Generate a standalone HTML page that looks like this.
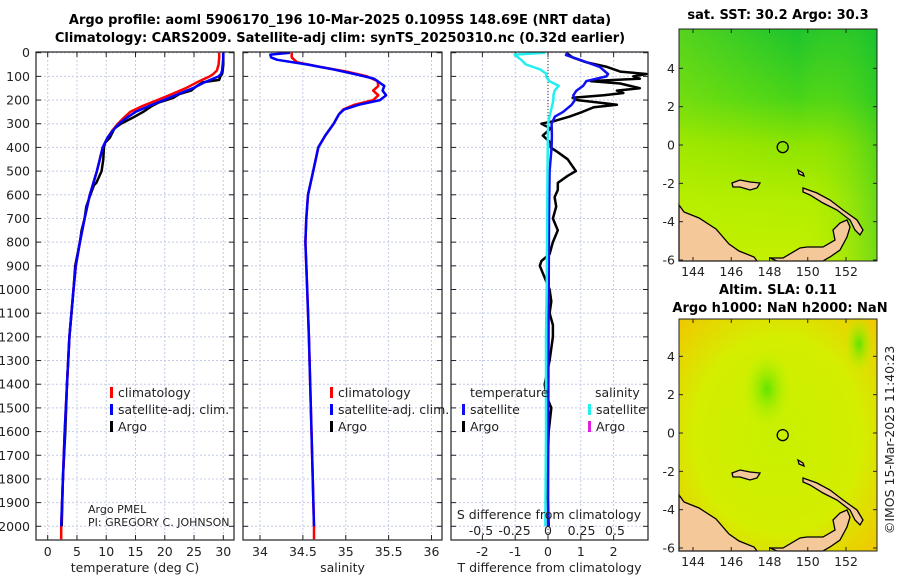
<!DOCTYPE html>
<html><head><meta charset="utf-8">
<style>
body{margin:0;background:#fff;}
svg{display:block;font-family:"DejaVu Sans","Liberation Sans",sans-serif;}
.t{font-size:12.5px;fill:#222;}
.b{font-size:13px;font-weight:bold;fill:#000;}
</style></head>
<body>
<svg id="fig" width="900" height="580" viewBox="0 0 900 580">
<defs>
<linearGradient id="sstg" x1="0" y1="0" x2="0" y2="1">
<stop offset="0" stop-color="#1cc42e"/><stop offset="0.3" stop-color="#48d418"/><stop offset="0.5" stop-color="#8ee400"/><stop offset="0.75" stop-color="#b4ee00"/><stop offset="1" stop-color="#c4f000"/>
</linearGradient>
<linearGradient id="sstx" x1="0" y1="0" x2="1" y2="0">
<stop offset="0" stop-color="#c0f000" stop-opacity="0.35"/><stop offset="0.6" stop-color="#c0f000" stop-opacity="0"/><stop offset="1" stop-color="#10c030" stop-opacity="0.45"/>
</linearGradient>
<radialGradient id="slag" cx="0.5" cy="0.5" r="0.7">
<stop offset="0" stop-color="#c8f000"/><stop offset="0.6" stop-color="#d4ee00"/><stop offset="1" stop-color="#f0c800"/>
</radialGradient>
<radialGradient id="slagreen" cx="0.5" cy="0.5" r="0.5">
<stop offset="0" stop-color="#60e400"/><stop offset="1" stop-color="#c0f000" stop-opacity="0"/>
</radialGradient>
</defs>
<g id="titles">
<text class="b" x="340" y="24" text-anchor="middle">Argo profile: aoml 5906170_196 10-Mar-2025 0.1095S 148.69E (NRT data)</text>
<text class="b" x="340" y="42" text-anchor="middle">Climatology: CARS2009. Satellite-adj clim: synTS_20250310.nc (0.32d earlier)</text>
</g>
<g id="plots"></g>
<g id="maps"></g>
<text class="t" transform="translate(894,440) rotate(-90)" text-anchor="middle">©IMOS 15-Mar-2025 11:40:23</text>
</svg>
<script>
// ---- data ----
const depthTicks=[0,100,200,300,400,500,600,700,800,900,1000,1100,1200,1300,1400,1500,1600,1700,1800,1900,2000];
const tempTicks=[0,5,10,15,20,25,30];
const salTicks=[34,34.5,35,35.5,36];
const tdiffTicks=[-2,-1,0,1,2];
const sdiffTicks=[-0.5,-0.25,0,0.25,0.5];
const sdiffLabels=["-0.5","-0.25","0","0.25","0.5"];

const climTDepth=[0,20,50,75,90,100,125,150,175,200,225,250,275,300,330,360,400,450,500,550,600,700,800,900,1000,1200,1400,1600,1800,2000,2055];
const climT=[29.3,29.3,29.2,28.9,28.3,27.7,25.5,23.6,21.2,18.7,16.2,14.1,13.0,12.0,11.0,10.2,9.4,8.9,8.4,7.8,7.2,6.3,5.5,4.8,4.4,3.7,3.3,2.9,2.6,2.3,2.3];
const satTDepth=[0,20,50,75,90,100,125,150,175,200,225,250,275,300,330,360,400,450,500,550,600,700,800,900,1000,1200,1400,1600,1800,2000];
const satT=[30.0,30.0,29.9,29.8,29.6,29.2,26.8,24.8,22.3,19.8,17.3,15.0,13.5,12.2,11.1,10.2,9.4,8.9,8.4,7.8,7.2,6.3,5.5,4.8,4.4,3.7,3.3,2.9,2.6,2.3];
const argoTDepth=[0,20,50,75,90,100,115,125,140,150,160,175,190,200,210,225,250,275,300,320,340,360,380,400,450,500,550,560,600,650,700,750,800,900,1000,1200,1400,1600,1800,2000];
const argoT=[30.0,30.0,30.0,29.9,29.8,29.5,29.3,26.5,25.5,25.0,24.5,22.5,21.5,20.3,19.0,17.8,16.3,14.5,12.5,11.4,11.0,10.6,9.8,9.6,9.5,9.2,8.3,7.9,7.3,6.6,6.3,5.8,5.5,4.7,4.4,3.7,3.3,3.0,2.6,2.4];

const climSDepth=[0,20,40,60,80,100,120,140,160,180,200,220,240,260,280,300,350,400,500,600,700,800,1000,1200,1600,2000,2055];
const climS=[34.37,34.37,34.43,34.70,35.01,35.25,35.37,35.38,35.32,35.38,35.32,35.10,34.97,34.92,34.89,34.86,34.76,34.68,34.62,34.56,34.54,34.53,34.55,34.57,34.60,34.63,34.63];
const satSDepth=[0,8,20,30,50,70,90,110,140,160,180,200,220,240,260,280,300,350,400,500,600,700,800,1000,1200,1600,2000];
const satS=[34.35,34.12,34.13,34.20,34.55,34.85,35.10,35.33,35.45,35.43,35.47,35.40,35.15,34.98,34.92,34.89,34.86,34.76,34.68,34.62,34.56,34.54,34.53,34.55,34.57,34.60,34.63];

const tdSatDepth=[0,10,30,60,90,100,120,140,160,180,200,220,250,270,300,350,400,500,700,1000,1500,2000];
const tdSat=[0.6,0.55,0.97,1.58,1.83,1.78,1.17,1.07,0.87,0.77,0.82,0.72,0.46,0.21,0.11,0.12,0.11,0.05,0.03,0.02,0.01,0.0];
const tdArgoDepth=[0,20,40,60,80,90,100,110,120,130,150,160,170,180,190,200,210,220,230,250,270,290,300,320,350,380,400,420,450,480,500,520,550,580,610,650,700,750,800,850,880,900,950,1000,1050,1100,1150,1200,1300,1400,1450,1500,1600,1700,1800,1900,2000];
const tdArgo=[0.55,0.75,1.16,1.8,2.2,3.0,2.6,2.8,1.3,2.2,2.8,2.1,2.3,1.7,0.75,0.9,1.5,2.1,1.4,1.05,0.66,0.15,-0.2,0.08,-0.16,0.08,0.08,0.3,0.6,0.75,0.85,0.6,0.3,0.3,0.2,0.25,0.15,0.3,0.15,0.05,-0.2,-0.25,-0.1,0.05,0.1,0.05,0.15,0.15,0.05,-0.1,-0.05,0.1,0.02,0.0,-0.05,0.0,0.02];
const sdSatDepth=[0,8,30,50,70,90,100,120,140,160,180,200,250,300,600,1000,1200,1600,2000];
const sdSat=[-0.02,-0.25,-0.2,-0.165,-0.06,-0.01,-0.015,0.01,0.08,0.05,0.04,0.04,0.02,0.0,-0.005,-0.01,-0.015,-0.015,-0.02];

const mapLatTicks=[4,2,0,-2,-4,-6];
const mapLonTicks=[144,146,148,150,152];
const floatLon=148.69, floatLat=-0.1095;

// ---- helpers ----
const NS="http://www.w3.org/2000/svg";
function mk(tag,attrs,parent){const e=document.createElementNS(NS,tag);for(const k in attrs)e.setAttribute(k,attrs[k]);parent.appendChild(e);return e;}
const plots=document.getElementById('plots');
const maps=document.getElementById('maps');
const yTop=52, yBot=540;
function yD(d){return 52.7+d*0.2368;}
function lin(d0,d1,r0,r1){return v=>r0+(v-d0)/(d1-d0)*(r1-r0);}

const panels=[
 {x0:36,x1:234,sx:lin(0,30,47.7,223.3),ticks:tempTicks,labels:tempTicks.map(String),label:"temperature (deg C)",name:"temperature"},
 {x0:243,x1:442,sx:lin(34,36,260,431.5),ticks:salTicks,labels:salTicks.map(String),label:"salinity",name:"salinity"},
 {x0:451,x1:648,sx:lin(0,2,548,613.6),ticks:tdiffTicks,labels:tdiffTicks.map(String),label:"T difference from climatology",name:"difference"}
];
const sxS=lin(0,0.5,548,615);

panels.forEach((p,i)=>{
  const g=mk('g',{},plots);
  
  
  mk('rect',{x:p.x0,y:yTop,width:p.x1-p.x0,height:yBot-yTop,fill:'#fff'},g);
  depthTicks.forEach(d=>{
    const y=yD(d);
    const gl=mk('line',{x1:p.x0,x2:p.x1,y1:y,y2:y,stroke:'#c4cbe8','stroke-width':1,'stroke-dasharray':'2,2'},g);
    
    
    mk('line',{x1:p.x0,x2:p.x0+5,y1:y,y2:y,stroke:'#222'},g);
    mk('line',{x1:p.x1-5,x2:p.x1,y1:y,y2:y,stroke:'#222'},g);
    if(i===0){const t=mk('text',{x:30,y:y+4.5,'text-anchor':'end',class:'t'},g);t.textContent=d;
      }
  });
  p.ticks.forEach((v,k)=>{
    const x=p.sx(v);
    const gl=mk('line',{x1:x,x2:x,y1:yTop,y2:yBot,stroke:'#c4cbe8','stroke-width':1,'stroke-dasharray':'2,2'},g);
    
    
    mk('line',{x1:x,x2:x,y1:yBot-5,y2:yBot,stroke:'#222'},g);
    mk('line',{x1:x,x2:x,y1:yTop,y2:yTop+5,stroke:'#222'},g);
    const t=mk('text',{x:x,y:556,'text-anchor':'middle',class:'t'},g);t.textContent=p.labels[k];
    
  });
  const xl=mk('text',{x:(p.x0+p.x1)/2,y:572,'text-anchor':'middle',class:'t'},g);xl.textContent=p.label;
  
  p.g=g;
});

function line(g,depths,vals,sx,color,w,name){
  const pts=depths.map((d,i)=>sx(vals[i]).toFixed(1)+','+yD(d).toFixed(1)).join(' ');
  const e=mk('polyline',{points:pts,fill:'none',stroke:color,'stroke-width':w,'stroke-linejoin':'round'},g);
  
  
}
// panel 1
line(panels[0].g,argoTDepth,argoT,panels[0].sx,'#000',2.5,'argo-temperature-line');
line(panels[0].g,climTDepth,climT,panels[0].sx,'#f00',2.5,'climatology-temperature-line');
line(panels[0].g,satTDepth,satT,panels[0].sx,'#0000ff',2.5,'satellite-temperature-line');
// panel 2
line(panels[1].g,climSDepth,climS,panels[1].sx,'#f00',2.5,'climatology-salinity-line');
line(panels[1].g,satSDepth,satS,panels[1].sx,'#0000ff',2.5,'satellite-salinity-line');
// panel 3
{const g=panels[2].g;
 const z=mk('line',{x1:548,x2:548,y1:yTop,y2:yBot,stroke:'#333','stroke-width':1,'stroke-dasharray':'1,2'},g);
 
 line(g,tdArgoDepth,tdArgo,panels[2].sx,'#000',2.5,'argo-t-difference-line');
 line(g,tdSatDepth,tdSat,panels[2].sx,'#1010f0',2.5,'satellite-t-difference-line');
 line(g,sdSatDepth,sdSat,sxS,'#22f0f0',2.5,'satellite-s-difference-line');
 const st=mk('text',{x:549,y:519,'text-anchor':'middle',class:'t'},g);st.textContent='S difference from climatology';
 
 sdiffTicks.forEach((v,k)=>{const t=mk('text',{x:sxS(v),y:535,'text-anchor':'middle',class:'t'},g);t.textContent=sdiffLabels[k];
  });
}
// frames
panels.forEach(p=>{mk('rect',{x:p.x0,y:yTop,width:p.x1-p.x0,height:yBot-yTop,fill:'none',stroke:'#222','stroke-width':1.2},p.g);});

// legends
function legend(g,x,y,color,label,name){
  const m=mk('rect',{x:x,y:y-10,width:3,height:11,fill:color},g);
  
  const t=mk('text',{x:x+8,y:y,class:'t'},g);t.textContent=label;
  
}
legend(panels[0].g,110,397,'#f00','climatology','legend-climatology');
legend(panels[0].g,110,414,'#0000ff','satellite-adj. clim.','legend-satellite');
legend(panels[0].g,110,431,'#000','Argo','legend-argo');
legend(panels[1].g,330,397,'#f00','climatology','legend-climatology');
legend(panels[1].g,330,414,'#0000ff','satellite-adj. clim.','legend-satellite');
legend(panels[1].g,330,431,'#000','Argo','legend-argo');
{const g=panels[2].g;
 const t1=mk('text',{x:470,y:397,class:'t'},g);t1.textContent='temperature';
 const t2=mk('text',{x:595,y:397,class:'t'},g);t2.textContent='salinity';
 legend(g,462,414,'#1010f0','satellite','legend-t-satellite');
 legend(g,462,431,'#000','Argo','legend-t-argo');
 legend(g,588,414,'#22f0f0','satellite','legend-s-satellite');
 legend(g,588,431,'#e020e0','Argo','legend-s-argo');
}
{const g=panels[0].g;
 const a=mk('text',{x:88,y:513,class:'t','font-size':'11'},g);a.textContent='Argo PMEL';a.setAttribute('style','font-size:11px');
 
 const b=mk('text',{x:88,y:526,class:'t'},g);b.textContent='PI: GREGORY C. JOHNSON';b.setAttribute('style','font-size:11px');
 
}

// ---- maps ----
const landMain=[[0,176],[5,183],[20,189],[37,200],[50,215],[60,222],[75,228],[78,232],[0,232]];
const landEast=[[91,229],[104,229],[121,219],[128,218],[144,218],[156,211],[154,201],[161,194],[168,191],[171,198],[168,208],[161,221],[151,228],[144,232],[98,232]];
const landBritain=[[124,159],[138,164],[151,171],[164,181],[178,191],[184,201],[181,206],[176,201],[171,191],[158,181],[144,174],[131,166],[124,163]];
const landHanover=[[53,154],[61,151],[71,153],[81,154],[78,159],[71,161],[61,158],[54,158]];
const landSmall=[[119,141],[124,144],[125,147],[120,145]];

function drawMap(x0,y0,h,fillId,name,title1,title2){
  const W=198,H=232;
  const g=mk('g',{},maps);
  
  
  mk('rect',{x:x0,y:y0,width:W,height:H,fill:'url(#'+fillId+')'},g);
  if(fillId==='sstg'){mk('rect',{x:x0,y:y0,width:W,height:H,fill:'url(#sstx)'},g);}
  else{mk('ellipse',{cx:x0+88,cy:y0+70,rx:25,ry:40,fill:'url(#slagreen)'},g);
       mk('ellipse',{cx:x0+180,cy:y0+25,rx:15,ry:30,fill:'url(#slagreen)'},g);}
  [landMain,landEast,landBritain,landHanover,landSmall].forEach(poly=>{
    const p=mk('polygon',{points:poly.map(q=>(x0+q[0])+','+(y0+q[1]*H/232)).join(' '),fill:'#f5c89a',stroke:'#000','stroke-width':1.3},g);
    
  });
  const lx=lin(144,152,x0+14,x0+167);
  const ly=lin(0,-6,y0+h[0],y0+h[1]);
  const c=mk('circle',{cx:lx(floatLon),cy:ly(floatLat),r:5.5,fill:'none',stroke:'#000','stroke-width':1.3},g);
  
  mk('rect',{x:x0,y:y0,width:W,height:H,fill:'none',stroke:'#222','stroke-width':1},g);
  mapLatTicks.forEach(v=>{const y=ly(v);
    mk('line',{x1:x0,x2:x0+4,y1:y,y2:y,stroke:'#222'},g);mk('line',{x1:x0+W-4,x2:x0+W,y1:y,y2:y,stroke:'#222'},g);
    const t=mk('text',{x:x0-4,y:y+4.5,'text-anchor':'end',class:'t'},g);t.textContent=v;
    });
  mapLonTicks.forEach(v=>{const x=lx(v);
    mk('line',{x1:x,x2:x,y1:y0+H-4,y2:y0+H,stroke:'#222'},g);mk('line',{x1:x,x2:x,y1:y0,y2:y0+4,stroke:'#222'},g);
    const t=mk('text',{x:x,y:y0+H+15,'text-anchor':'middle',class:'t'},g);t.textContent=v;
    });
  const t1=mk('text',{x:x0+W/2,y:title2?y0-25:y0-10,'text-anchor':'middle',class:'b'},g);t1.textContent=title1;
  
  if(title2){const t2=mk('text',{x:x0+W/2+2,y:y0-7,'text-anchor':'middle',class:'b'},g);t2.textContent=title2;
    }
}
drawMap(679,29,[116,231],'sstg','sst-map','sat. SST: 30.2 Argo: 30.3',null);
drawMap(679,319,[114,229],'slag','sla-map','Altim. SLA: 0.11','Argo h1000: NaN h2000: NaN');
</script>
</body></html>
